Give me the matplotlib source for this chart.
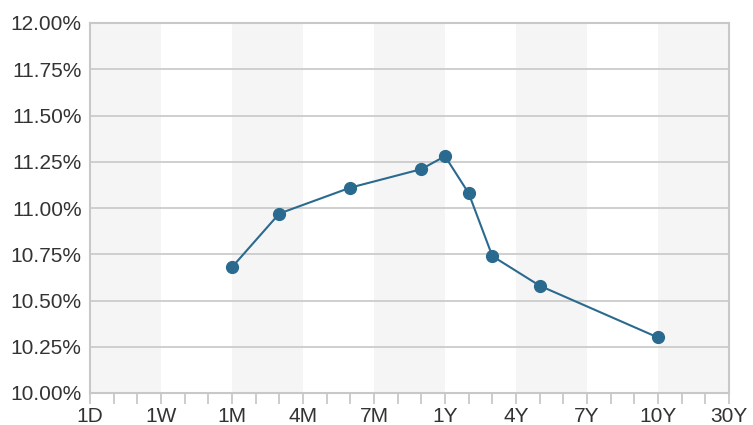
import matplotlib
matplotlib.use("Agg")
import matplotlib.pyplot as plt
import numpy as np

# axis tenor labels (equally spaced on the chart)
tick_labels = ["1D", "1W", "1M", "4M", "7M", "1Y", "4Y", "7Y", "10Y", "30Y"]
# curve points: position in minor-tick steps (3 per major tick) and yield in %
point_tenors = ["1M", "2M", "6M", "9M", "1Y", "2Y", "3Y", "5Y", "10Y"]
point_steps = [6, 8, 11, 14, 15, 16, 17, 19, 24]
point_yields = [10.68, 10.97, 11.11, 11.21, 11.28, 11.08, 10.74, 10.58, 10.30]
y_ticks = [10.00, 10.25, 10.50, 10.75, 11.00, 11.25, 11.50, 11.75, 12.00]

plt.rcParams['font.family'] = ['Liberation Sans', 'DejaVu Sans']

fig = plt.figure(figsize=(7.53, 4.25), dpi=100)
ax = fig.add_axes([90 / 753, 32 / 425, 639 / 753, 370 / 425])

n = len(tick_labels)
# alternating background bands
for i in range(n - 1):
    if i % 2 == 0:
        ax.axvspan(i, i + 1, color="#f5f5f5", zorder=0, lw=0)

x = np.array(point_steps) / 3.0
ax.plot(x, point_yields, color="#2b6a8f", lw=1.5, marker="o", ms=8.5, zorder=3)

ax.set_xlim(0, n - 1)
ax.set_ylim(y_ticks[0], y_ticks[-1])
ax.set_xticks(range(n))
ax.set_xticklabels(tick_labels)
ax.set_xticks(np.arange(0, n - 1, 1 / 3.0), minor=True)
ax.set_yticks(y_ticks)
ax.set_yticklabels(["%.2f%%" % v for v in y_ticks])

ax.grid(axis="y", color="#cccccc", lw=1.3, zorder=1)
ax.set_axisbelow(True)

for s in ["left", "bottom", "right", "top"]:
    ax.spines[s].set_color("#c8c8c8")
    ax.spines[s].set_linewidth(1.5)

ax.tick_params(axis="x", which="both", direction="out", length=8, width=1.3,
               color="#c8c8c8", labelsize=15, labelcolor="#333333", pad=2)
ax.tick_params(axis="y", length=0, labelsize=15, labelcolor="#333333", pad=6)

fig.savefig("out.png", dpi=100)
